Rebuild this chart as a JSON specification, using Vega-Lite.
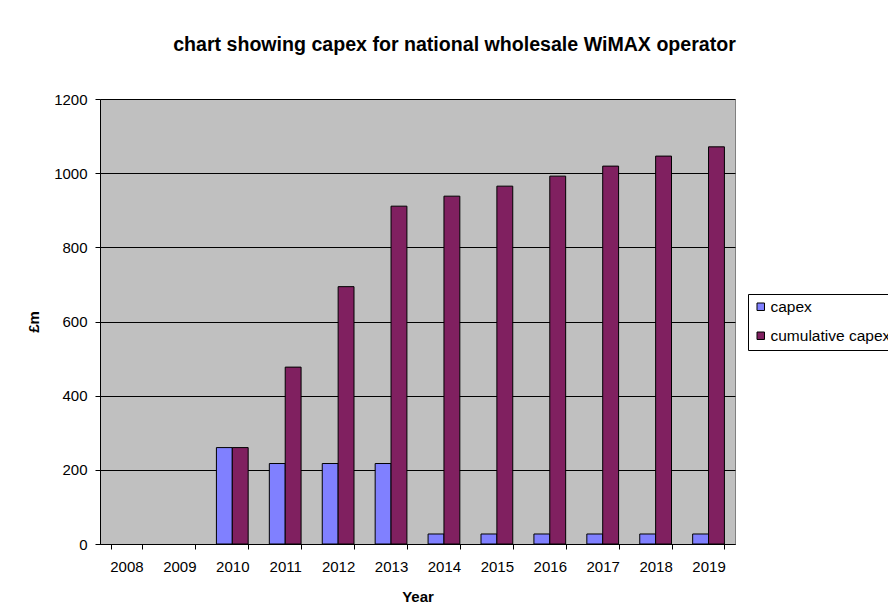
{
  "$schema": "https://vega.github.io/schema/vega-lite/v6.json",
  "width": 635,
  "height": 445,
  "autosize": {"type": "none"},
  "padding": {"left": 100, "top": 99, "right": 153, "bottom": 72},
  "background": "#ffffff",
  "title": {
    "text": "chart showing capex for national wholesale WiMAX operator",
    "font": "Liberation Sans",
    "fontSize": 19.6,
    "fontWeight": "bold",
    "color": "#000000",
    "anchor": "middle",
    "frame": "group",
    "baseline": "alphabetic",
    "offset": 21,
    "dx": 37
  },
  "data": {
    "values": [
      {"year": "2010", "series": "capex", "value": 260},
      {"year": "2010", "series": "cumulative capex", "value": 260},
      {"year": "2011", "series": "capex", "value": 217},
      {"year": "2011", "series": "cumulative capex", "value": 477},
      {"year": "2012", "series": "capex", "value": 217},
      {"year": "2012", "series": "cumulative capex", "value": 694},
      {"year": "2013", "series": "capex", "value": 217},
      {"year": "2013", "series": "cumulative capex", "value": 911},
      {"year": "2014", "series": "capex", "value": 27},
      {"year": "2014", "series": "cumulative capex", "value": 938},
      {"year": "2015", "series": "capex", "value": 27},
      {"year": "2015", "series": "cumulative capex", "value": 965},
      {"year": "2016", "series": "capex", "value": 27},
      {"year": "2016", "series": "cumulative capex", "value": 992},
      {"year": "2017", "series": "capex", "value": 27},
      {"year": "2017", "series": "cumulative capex", "value": 1019},
      {"year": "2018", "series": "capex", "value": 27},
      {"year": "2018", "series": "cumulative capex", "value": 1046},
      {"year": "2019", "series": "capex", "value": 27},
      {"year": "2019", "series": "cumulative capex", "value": 1071}
    ]
  },
  "mark": {"type": "bar", "stroke": "#000000", "strokeWidth": 1},
  "encoding": {
    "x": {
      "field": "year",
      "type": "ordinal",
      "scale": {
        "domain": ["2008", "2009", "2010", "2011", "2012", "2013", "2014", "2015", "2016", "2017", "2018", "2019"],
        "paddingInner": 0.4,
        "paddingOuter": 0.2
      },
      "axis": {
        "title": "Year",
        "labelAngle": 0,
        "tickBand": "extent",
        "tickSize": 5,
        "tickColor": "#000000",
        "domainColor": "#000000",
        "labelPadding": 10,
        "titlePadding": 15,
        "grid": false
      }
    },
    "xOffset": {
      "field": "series",
      "type": "nominal",
      "scale": {"paddingInner": 0, "paddingOuter": 0}
    },
    "y": {
      "field": "value",
      "type": "quantitative",
      "scale": {"domain": [0, 1200], "nice": false},
      "axis": {
        "title": "£m",
        "format": "d",
        "values": [0, 200, 400, 600, 800, 1000, 1200],
        "tickSize": 5,
        "tickColor": "#000000",
        "domainColor": "#000000",
        "gridColor": "#000000",
        "gridOpacity": 1,
        "labelPadding": 8,
        "titlePadding": 12
      }
    },
    "color": {
      "field": "series",
      "type": "nominal",
      "scale": {"domain": ["capex", "cumulative capex"], "range": ["#8080FF", "#802060"]},
      "legend": {
        "title": null,
        "orient": "none",
        "legendX": 648,
        "legendY": 195,
        "strokeColor": "#000000",
        "padding": 5,
        "rowPadding": 12,
        "symbolType": "square",
        "symbolSize": 56,
        "symbolStrokeColor": "#000000",
        "symbolStrokeWidth": 1,
        "symbolOpacity": 1,
        "labelOffset": 2,
        "labelFontSize": 15.5,
        "labelFont": "Liberation Sans",
        "labelColor": "#000000"
      }
    }
  },
  "config": {
    "view": {"fill": "#C0C0C0", "stroke": "#808080", "strokeWidth": 1},
    "axis": {
      "labelFont": "Liberation Sans",
      "labelFontSize": 15,
      "labelColor": "#000000",
      "titleFont": "Liberation Sans",
      "titleFontSize": 15,
      "titleFontWeight": "bold",
      "titleColor": "#000000"
    }
  }
}
